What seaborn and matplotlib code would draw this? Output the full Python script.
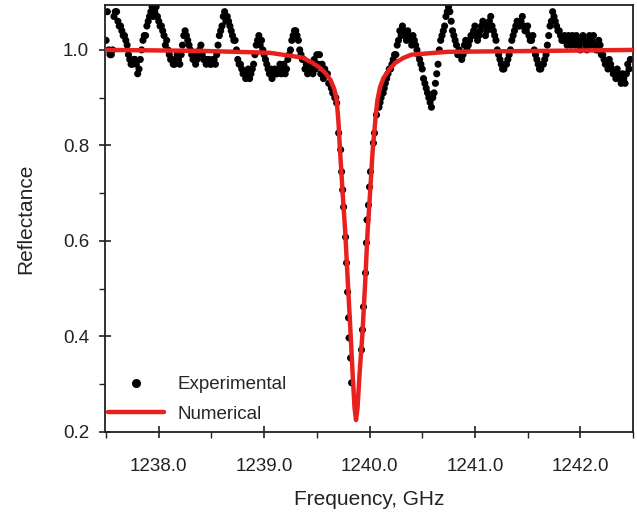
import numpy as np
import pandas as pd
import matplotlib
matplotlib.use("Agg")
import matplotlib.pyplot as plt
import seaborn as sns
from matplotlib.ticker import MultipleLocator, FormatStrFormatter
from matplotlib.lines import Line2D

# Experimental data (frequency in GHz, reflectance) - first sweep
exp_freq_a = [
    1237.500, 1237.525, 1237.550, 1237.575, 1237.600, 1237.625, 1237.650, 1237.675, 1237.700, 1237.725,
    1237.750, 1237.775, 1237.800, 1237.825, 1237.850, 1237.875, 1237.900, 1237.925, 1237.950, 1237.975,
    1238.000, 1238.025, 1238.050, 1238.075, 1238.100, 1238.125, 1238.150, 1238.175, 1238.200, 1238.225,
    1238.250, 1238.275, 1238.300, 1238.325, 1238.350, 1238.375, 1238.400, 1238.425, 1238.450, 1238.475,
    1238.500, 1238.525, 1238.550, 1238.575, 1238.600, 1238.625, 1238.650, 1238.675, 1238.700, 1238.725,
    1238.750, 1238.775, 1238.800, 1238.825, 1238.850, 1238.875, 1238.900, 1238.925, 1238.950, 1238.975,
    1239.000, 1239.025, 1239.050, 1239.075, 1239.100, 1239.125, 1239.150, 1239.175, 1239.200, 1239.225,
    1239.250, 1239.275, 1239.300, 1239.325, 1239.350, 1239.375, 1239.400, 1239.425, 1239.450, 1239.475,
    1239.500, 1239.525, 1239.550, 1239.575, 1239.600, 1239.625, 1239.650, 1239.670,
    1239.688, 1239.707, 1239.726, 1239.735, 1239.745, 1239.754, 1239.773, 1239.782, 1239.792, 1239.801,
    1239.806, 1239.820, 1239.830,
    1239.924, 1239.933, 1239.943, 1239.962, 1239.971, 1239.976, 1239.990, 1240.000, 1240.009, 1240.037,
    1240.047, 1240.066,
    1240.090, 1240.110, 1240.130, 1240.150, 1240.175, 1240.200, 1240.225, 1240.250, 1240.275, 1240.300,
    1240.325, 1240.350, 1240.375, 1240.400, 1240.425, 1240.450, 1240.475, 1240.500, 1240.525, 1240.550,
    1240.575, 1240.600, 1240.625, 1240.650, 1240.675, 1240.700, 1240.725, 1240.750, 1240.775, 1240.800,
    1240.825, 1240.850, 1240.875, 1240.900, 1240.925, 1240.950, 1240.975, 1241.000, 1241.025, 1241.050,
    1241.075, 1241.100, 1241.125, 1241.150, 1241.175, 1241.200, 1241.225, 1241.250, 1241.275, 1241.300,
    1241.325, 1241.350, 1241.375, 1241.400, 1241.425, 1241.450, 1241.475, 1241.500, 1241.525, 1241.550,
    1241.575, 1241.600, 1241.625, 1241.650, 1241.675, 1241.700, 1241.725, 1241.750, 1241.775, 1241.800,
    1241.825, 1241.850, 1241.875, 1241.900, 1241.925, 1241.950, 1241.975, 1242.000, 1242.025, 1242.050,
    1242.075, 1242.100, 1242.125, 1242.150, 1242.175, 1242.200, 1242.225, 1242.250, 1242.275, 1242.300,
    1242.325, 1242.350, 1242.375, 1242.400, 1242.425, 1242.450, 1242.475,
]
exp_refl_a = [
    1.02, 1.00, 0.99, 1.07, 1.08, 1.05, 1.04, 1.03, 1.01, 0.98,
    0.97, 0.98, 0.95, 0.98, 1.02, 1.03, 1.06, 1.08, 1.07, 1.09,
    1.06, 1.05, 1.03, 1.02, 0.99, 0.98, 0.97, 0.99, 0.97, 1.01,
    1.04, 1.02, 1.00, 0.98, 0.97, 0.99, 1.01, 0.98, 0.97, 0.98,
    0.97, 0.98, 0.99, 1.03, 1.05, 1.08, 1.07, 1.05, 1.03, 1.02,
    0.98, 0.97, 0.95, 0.94, 0.96, 0.95, 0.97, 1.01, 1.03, 1.02,
    0.99, 0.97, 0.95, 0.94, 0.96, 0.95, 0.97, 0.96, 0.95, 0.98,
    1.00, 1.03, 1.04, 1.02, 0.99, 0.98, 0.97, 0.96, 0.97, 0.98,
    0.99, 0.99, 0.97, 0.96, 0.95, 0.93, 0.91, 0.90,
    0.889, 0.826, 0.791, 0.745, 0.707, 0.671, 0.608, 0.554, 0.493, 0.439,
    0.397, 0.355, 0.303,
    0.372, 0.414, 0.462, 0.533, 0.596, 0.644, 0.675, 0.713, 0.745, 0.805,
    0.826, 0.864,
    0.88, 0.90, 0.91, 0.93, 0.95, 0.96, 0.98, 0.99, 1.02, 1.03,
    1.04, 1.02, 1.03, 1.01, 1.02, 1.00, 0.98, 0.96, 0.93, 0.91,
    0.89, 0.90, 0.93, 0.97, 1.02, 1.04, 1.07, 1.09, 1.06, 1.03,
    1.01, 1.00, 0.98, 1.01, 1.00, 1.02, 1.03, 1.05, 1.02, 1.04,
    1.06, 1.03, 1.05, 1.07, 1.04, 1.02, 0.99, 0.97, 0.96, 0.97,
    0.99, 1.02, 1.04, 1.06, 1.05, 1.07, 1.04, 1.05, 1.02, 1.03,
    0.99, 0.97, 0.96, 0.97, 0.99, 1.03, 1.06, 1.07, 1.05, 1.04,
    1.02, 1.03, 1.01, 1.02, 1.03, 1.01, 1.02, 1.00, 1.03, 1.01,
    1.02, 1.01, 1.03, 1.00, 1.02, 0.99, 0.98, 0.97, 0.98, 0.96,
    0.95, 0.96, 0.94, 0.95, 0.93, 0.97, 0.98,
]

# Experimental data - interleaved second sweep
exp_freq_b = [
    1237.5125, 1237.5375, 1237.5625, 1237.5875, 1237.6125, 1237.6375, 1237.6625, 1237.6875, 1237.7125, 1237.7375,
    1237.7625, 1237.7875, 1237.8125, 1237.8375, 1237.8625, 1237.8875, 1237.9125, 1237.9375, 1237.9625, 1237.9875,
    1238.0125, 1238.0375, 1238.0625, 1238.0875, 1238.1125, 1238.1375, 1238.1625, 1238.1875, 1238.2125, 1238.2375,
    1238.2625, 1238.2875, 1238.3125, 1238.3375, 1238.3625, 1238.3875, 1238.4125, 1238.4375, 1238.4625, 1238.4875,
    1238.5125, 1238.5375, 1238.5625, 1238.5875, 1238.6125, 1238.6375, 1238.6625, 1238.6875, 1238.7125, 1238.7375,
    1238.7625, 1238.7875, 1238.8125, 1238.8375, 1238.8625, 1238.8875, 1238.9125, 1238.9375, 1238.9625, 1238.9875,
    1239.0125, 1239.0375, 1239.0625, 1239.0875, 1239.1125, 1239.1375, 1239.1625, 1239.1875, 1239.2125, 1239.2375,
    1239.2625, 1239.2875, 1239.3125, 1239.3375, 1239.3625, 1239.3875, 1239.4125, 1239.4375, 1239.4625, 1239.4875,
    1239.5125, 1239.5375, 1239.5625, 1239.5875, 1239.6125, 1239.6375, 1239.6600, 1239.6800,
    1240.1000, 1240.1200, 1240.1400, 1240.1625, 1240.1875, 1240.2125, 1240.2375, 1240.2625, 1240.2875, 1240.3125,
    1240.3375, 1240.3625, 1240.3875, 1240.4125, 1240.4375, 1240.4625, 1240.4875, 1240.5125, 1240.5375, 1240.5625,
    1240.5875, 1240.6125, 1240.6375, 1240.6625, 1240.6875, 1240.7125, 1240.7375, 1240.7625, 1240.7875, 1240.8125,
    1240.8375, 1240.8625, 1240.8875, 1240.9125, 1240.9375, 1240.9625, 1240.9875, 1241.0125, 1241.0375, 1241.0625,
    1241.0875, 1241.1125, 1241.1375, 1241.1625, 1241.1875, 1241.2125, 1241.2375, 1241.2625, 1241.2875, 1241.3125,
    1241.3375, 1241.3625, 1241.3875, 1241.4125, 1241.4375, 1241.4625, 1241.4875, 1241.5125, 1241.5375, 1241.5625,
    1241.5875, 1241.6125, 1241.6375, 1241.6625, 1241.6875, 1241.7125, 1241.7375, 1241.7625, 1241.7875, 1241.8125,
    1241.8375, 1241.8625, 1241.8875, 1241.9125, 1241.9375, 1241.9625, 1241.9875, 1242.0125, 1242.0375, 1242.0625,
    1242.0875, 1242.1125, 1242.1375, 1242.1625, 1242.1875, 1242.2125, 1242.2375, 1242.2625, 1242.2875, 1242.3125,
    1242.3375, 1242.3625, 1242.3875, 1242.4125, 1242.4375, 1242.4625,
]
exp_refl_b = [
    1.08, 0.99, 1.00, 1.08, 1.06, 1.05, 1.03, 1.02, 0.99, 0.97,
    0.98, 0.97, 0.96, 1.00, 1.03, 1.05, 1.07, 1.09, 1.08, 1.07,
    1.05, 1.04, 1.01, 1.00, 0.98, 0.97, 0.98, 0.98, 0.99, 1.03,
    1.03, 1.01, 0.99, 0.98, 0.98, 1.00, 0.99, 0.98, 0.98, 0.97,
    0.98, 0.97, 1.01, 1.04, 1.07, 1.06, 1.06, 1.04, 1.02, 1.00,
    0.97, 0.96, 0.95, 0.95, 0.94, 0.96, 0.99, 1.02, 1.01, 1.00,
    0.98, 0.96, 0.96, 0.95, 0.95, 0.96, 0.95, 0.97, 0.96, 0.99,
    1.02, 1.04, 1.03, 1.00, 0.98, 0.96, 0.95, 0.96, 0.95, 0.96,
    0.97, 0.95, 0.94, 0.95, 0.93, 0.92, 0.91, 0.90,
    0.89, 0.91, 0.92, 0.94, 0.96, 0.97, 0.99, 1.01, 1.04, 1.05,
    1.03, 1.04, 1.02, 1.03, 1.01, 0.99, 0.97, 0.94, 0.92, 0.90,
    0.88, 0.91, 0.95, 1.00, 1.03, 1.05, 1.08, 1.08, 1.04, 1.02,
    0.99, 0.99, 0.99, 1.02, 1.01, 1.03, 1.04, 1.03, 1.03, 1.05,
    1.05, 1.04, 1.06, 1.05, 1.03, 1.00, 0.98, 0.96, 0.97, 0.98,
    1.00, 1.03, 1.05, 1.05, 1.06, 1.05, 1.04, 1.03, 1.02, 1.00,
    0.98, 0.96, 0.97, 0.98, 1.01, 1.05, 1.08, 1.06, 1.04, 1.03,
    1.02, 1.02, 1.03, 1.01, 1.02, 1.03, 1.01, 1.02, 1.02, 1.00,
    1.03, 1.02, 1.01, 1.00, 1.01, 0.99, 0.97, 0.96, 0.97, 0.95,
    0.94, 0.95, 0.93, 0.94, 0.95, 0.96,
]

# Numerical curve (frequency in GHz, reflectance)
num_freq = [1237.49, 1238.39, 1239.05, 1239.36, 1239.45, 1239.52, 1239.58, 1239.63, 1239.665,
            1239.688, 1239.705, 1239.72, 1239.745, 1239.77, 1239.795, 1239.82, 1239.84, 1239.858,
            1239.872, 1239.886, 1239.905, 1239.933, 1239.958, 1239.981, 1240.005, 1240.03,
            1240.06, 1240.075, 1240.10, 1240.132, 1240.19, 1240.245, 1240.32, 1240.396,
            1240.745, 1241.69, 1242.50]
num_refl = [1.000, 0.998, 0.994, 0.984, 0.974, 0.964, 0.952, 0.937, 0.918,
            0.895, 0.850, 0.790, 0.700, 0.617, 0.510, 0.407, 0.320, 0.250,
            0.225, 0.250, 0.320, 0.407, 0.510, 0.617, 0.700, 0.790,
            0.865, 0.895, 0.922, 0.941, 0.960, 0.973, 0.983, 0.990,
            0.996, 0.998, 1.000]

df_exp = pd.DataFrame({"freq": exp_freq_a + exp_freq_b, "refl": exp_refl_a + exp_refl_b})
df_num = pd.DataFrame({"freq": num_freq, "refl": num_refl})

sns.set_theme(style="ticks")
plt.rcParams['font.family'] = ['Liberation Sans', 'DejaVu Sans']

fig = plt.figure(figsize=(6.37, 5.19), dpi=100)
ax = fig.add_axes([105/637, 87/519, 528/637, 427/519])

RED = "#e8211f"
sns.scatterplot(data=df_exp, x="freq", y="refl", ax=ax, color="black", s=26,
                edgecolor="none", linewidth=0, zorder=2, legend=False)
sns.lineplot(data=df_num, x="freq", y="refl", ax=ax, color=RED, linewidth=3.2,
             zorder=3, legend=False, sort=False)

ax.set_xlim(1237.49, 1242.5)
ax.set_ylim(0.2, 1.094)
ax.xaxis.set_major_locator(MultipleLocator(1.0))
ax.xaxis.set_minor_locator(MultipleLocator(0.5))
ax.yaxis.set_major_locator(MultipleLocator(0.2))
ax.yaxis.set_minor_locator(MultipleLocator(0.1))
ax.xaxis.set_major_formatter(FormatStrFormatter('%.1f'))
ax.yaxis.set_major_formatter(FormatStrFormatter('%.1f'))
ax.tick_params(axis='both', which='major', direction='inout', length=9, width=1.2,
               labelsize=13.5, colors='#222222')
ax.tick_params(axis='both', which='minor', direction='out', length=4, width=1.0, colors='#222222')
ax.tick_params(axis='x', which='major', pad=14)
ax.tick_params(axis='y', which='major', pad=7)
for sp in ax.spines.values():
    sp.set_visible(True)
    sp.set_linewidth(1.3)
    sp.set_color('#222222')

ax.set_xlabel("Frequency, GHz", fontsize=15, labelpad=11, color='#222222')
ax.set_ylabel("Reflectance", fontsize=15, labelpad=20, color='#222222')

handles = [Line2D([0], [0], marker='o', color='none', markerfacecolor='black',
                  markeredgecolor='none', markersize=6.5, label='Experimental'),
           Line2D([0], [0], color=RED, linewidth=3.2, label='Numerical')]
ax.legend(handles=handles, loc='lower left', frameon=False, fontsize=13.5,
          handlelength=3.0, handletextpad=0.7, labelspacing=0.65,
          bbox_to_anchor=(0.0057, 0.022), borderaxespad=0, borderpad=0)

fig.savefig("out.png", dpi=100)
